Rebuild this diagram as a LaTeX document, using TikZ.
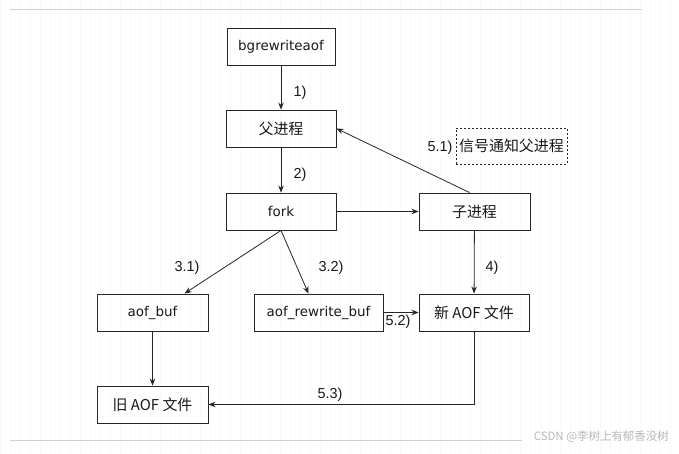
\documentclass[tikz,border=0pt]{standalone}
\usepackage{fontspec}
\setmainfont{DejaVu Sans}
\newfontfamily\cjk{Noto Sans CJK SC}
\newfontfamily\lbl{Liberation Sans}
\usetikzlibrary{arrows.meta}
\tikzset{
  box/.style={draw=black!85, line width=0.9bp, minimum height=37bp, inner sep=0pt, text=black!90},
  latin/.style={font=\fontsize{13.5}{15}\selectfont},
  han/.style={font=\cjk\fontsize{15}{17}\selectfont},
  lab/.style={font=\lbl\fontsize{14.5}{16}\selectfont, text=black!90, inner sep=0pt},
  arr/.style={draw=black!85, line width=0.8bp, -{Stealth[length=7bp,width=5.5bp]}},
}
\begin{document}
\begin{tikzpicture}[x=1bp,y=-1bp]
\useasboundingbox (0,0) rectangle (679,454);
\fill[white] (0,0) rectangle (679,454);
\draw[black!2.5, line width=0.4bp] (0,0) grid[step=10] (679,454);
\draw[black!18, line width=0.8bp] (10,9) -- (642,9);
\draw[black!18, line width=0.8bp] (10,440) -- (522,440);
\node[text=black!28, font=\cjk\fontsize{11.5}{13}\selectfont, anchor=east, inner sep=0pt] (wm) at (669,437) {CSDN @李树上有郁香没树};

\node[box, latin, minimum width=108bp] (bg) at (281,46.5) {bgrewriteaof};
\node[box, han, minimum width=110bp] (parent) at (281,128.5) {父进程};
\node[box, latin, minimum width=110bp] (fork) at (281,211.5) {fork};
\node[box, han, minimum width=111bp] (child) at (474.5,211.5) {子进程};
\node[box, han, dashed, dash pattern=on 2bp off 2bp, minimum width=111bp, minimum height=36bp] (sig) at (511.5,146) {信号通知父进程};
\node[box, latin, minimum width=111bp] (aofbuf) at (152.5,312.5) {aof\_buf};
\node[box, latin, minimum width=129bp] (rwbuf) at (318.5,312.5) {aof\_rewrite\_buf};
\node[box, han, minimum width=110bp] (newaof) at (474,312.5) {新 AOF 文件};
\node[box, han, minimum width=111bp] (oldaof) at (152.5,404.5) {旧 AOF 文件};

\draw[arr] (bg) -- (parent);
\draw[arr] (parent) -- (fork);
\draw[arr] (fork) -- (child);
\draw[arr] ([xshift=-5bp]child.north) -- (parent.east);
\draw[arr] (fork.south) -- ([xshift=32bp]aofbuf.north);
\draw[arr] (fork.south) -- ([xshift=-10bp]rwbuf.north);
\draw[arr] (child) -- (newaof);
\draw[arr] (rwbuf) -- (newaof);
\draw[arr] (aofbuf) -- (oldaof);
\draw[arr] (newaof.south) |- (oldaof.east);

\node[lab] (l1) at (300,93) {1)};
\node[lab] (l2) at (300,175) {2)};
\node[lab] (l31) at (187,268) {3.1)};
\node[lab] (l32) at (331,268) {3.2)};
\node[lab] (l4) at (492,268) {4)};
\node[lab] (l51) at (440,148) {5.1)};
\node[lab] (l52) at (398,322) {5.2)};
\node[lab] (l53) at (330,395) {5.3)};
\end{tikzpicture}
\end{document}
